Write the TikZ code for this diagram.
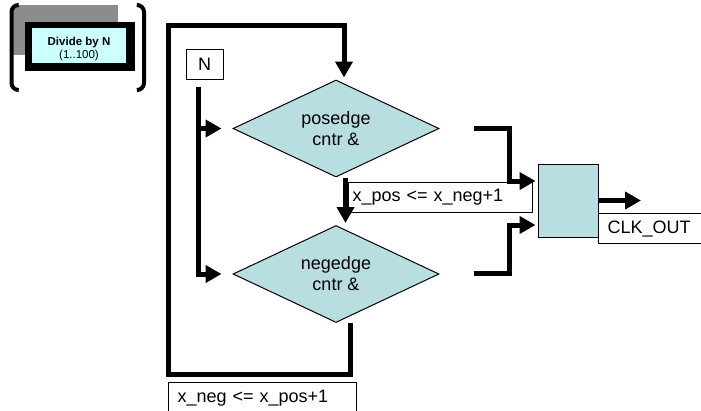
\documentclass[tikz,border=0pt]{standalone}
\usepackage{fontspec}
\setmainfont{Liberation Sans}
\usetikzlibrary{arrows.meta, positioning, calc, shapes.geometric}
\definecolor{cntrfill}{RGB}{185,222,226}
\definecolor{parfill}{RGB}{204,255,255}
\definecolor{shadegray}{RGB}{140,140,140}

\begin{document}
\begin{tikzpicture}[
    x=1pt, y=-1pt,
    font=\fontsize{18}{21}\selectfont,
    cntr/.style   ={diamond, draw=black, line width=1pt, fill=cntrfill,
                    minimum width=206pt, minimum height=97pt, aspect=2.1,
                    inner sep=0pt, align=center},
    muxbox/.style ={draw=black, line width=1pt, fill=cntrfill,
                    minimum width=60pt, minimum height=73pt, inner sep=0pt},
    lbl/.style    ={draw=black, line width=1pt, fill=white, anchor=north west,
                    align=left, minimum height=30pt, inner ysep=0pt},
    bus/.style    ={line width=5pt, -{Triangle[length=16pt,width=17pt]}},
    brack/.style  ={line width=4pt, line cap=round, rounded corners=7pt},
  ]
  \useasboundingbox (0,0) rectangle (701,410);

  % ---- parameter widget (top left) ----
  \fill[shadegray] (13,5) rectangle (118,55);
  \fill[black] (25,22) rectangle (135,71);
  \fill[parfill] (32,28) rectangle (126,63);
  \node[align=center, font=\fontsize{11.5}{13}\selectfont] (divn) at (79,49.4)
    {\textbf{Divide by N}\\(1..100)};
  \draw[brack] (18,5) -- (11.5,5) -- (11.5,90) -- (18,90);
  \draw[brack] (138,5) -- (144,5) -- (144,90) -- (138,90);

  % ---- nodes: counters, mux, N ----
  \node[cntr] (pos) at (336,128.5) {posedge\\cntr \&};
  \node[cntr] (neg) at (336,274)   {negedge\\cntr \&};
  \node[muxbox] (mux) at (568,200.5) {};
  \node[draw=black, line width=1pt, minimum width=37pt, minimum height=30pt,
        inner sep=0pt] (nval) at (204.5,64) {N};

  % ---- assignment labels ----
  \node[lbl, text width=176pt, inner xsep=4pt] (xpos) at (348,182)
    {x\_pos <= x\_neg+1};
  \node[lbl, text width=170pt, inner xsep=9pt, minimum height=31pt] (xneg)
    at (168,382) {x\_neg <= x\_pos+1};
  \node[lbl, text width=110pt, inner xsep=9pt] (clk) at (598,213) {CLK\_OUT};

  % ---- N feeds both counters ----
  \coordinate (ntap) at ([xshift=-6.5pt, yshift=-7pt]nval.south);
  \draw[bus] (ntap) |- ([xshift=-11pt]neg.west);
  \draw[bus] (ntap |- pos.west) -- ([xshift=-11pt]pos.west);

  % ---- feedback: posedge -> negedge, negedge round to posedge ----
  \draw[bus] ([xshift=9.5pt]pos.south) -- ([xshift=9.5pt, yshift=2pt]neg.north);
  \coordinate (loopbl) at (168.5,374);
  \coordinate (looptl) at (168.5,25);
  \draw[bus] ([xshift=14pt]neg.south) |- (loopbl) -- (looptl)
    -| ([xshift=8pt, yshift=2pt]pos.north);

  % ---- counter outputs into the mux ----
  \draw[bus] ([xshift=34pt]pos.east) -- ++(36,0)
    |- ([yshift=19.5pt, xshift=-2pt]mux.west);
  \draw[bus] ([xshift=34pt, yshift=1pt]neg.east) -- ++(36,0)
    |- ([yshift=-24.5pt, xshift=-2pt]mux.west);

  % ---- output ----
  \coordinate (clkend) at (641,200.5);
  \draw[bus] (mux.east) -- (clkend);

\end{tikzpicture}
\end{document}
